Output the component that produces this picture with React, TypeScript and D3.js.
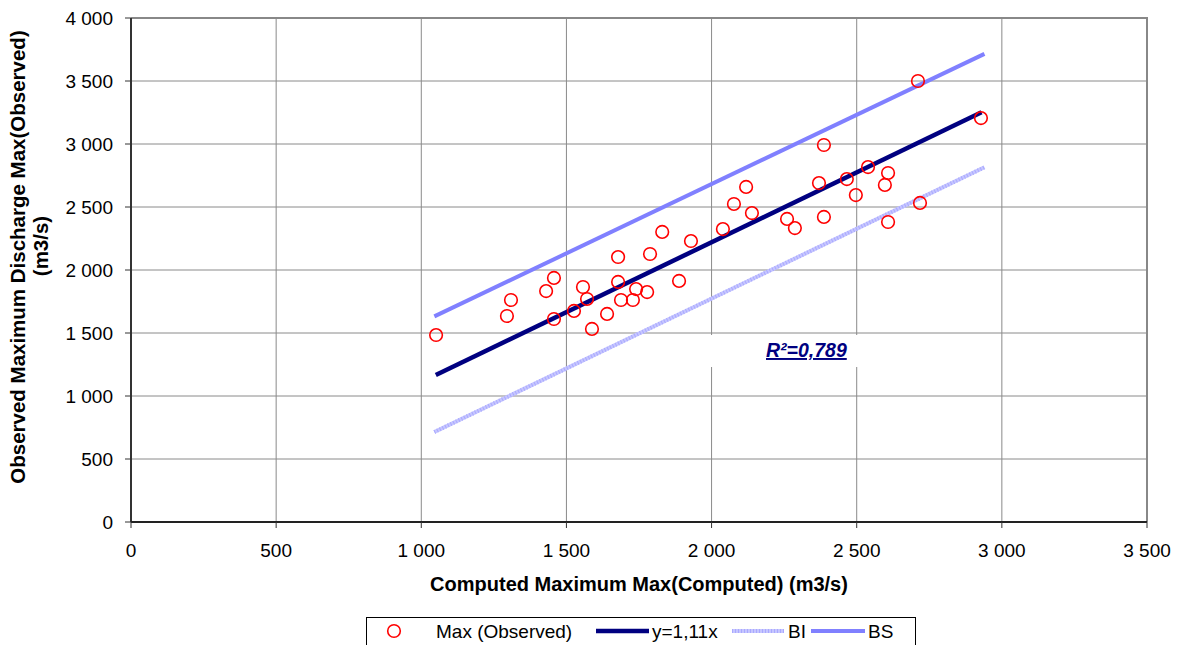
import React from 'react';
import * as d3 from 'd3';

// observed vs computed maximum discharge (m3/s)
const computedMax = [
  1051, 1295, 1309, 1430, 1457, 1457, 1526, 1557, 1571, 1588,
  1640, 1678, 1678, 1688, 1729, 1740, 1778, 1788, 1830, 1888,
  1929, 2039, 2077, 2119, 2139, 2260, 2287, 2370, 2387, 2387,
  2466, 2497, 2539, 2597, 2608, 2608, 2711, 2718, 2928,
];
const observedMax = [
  1484, 1635, 1762, 1833, 1937, 1611, 1675, 1865, 1770, 1532,
  1651, 2103, 1905, 1762, 1762, 1849, 1825, 2127, 2302, 1913,
  2230, 2325, 2524, 2659, 2452, 2405, 2333, 2690, 2992, 2421,
  2722, 2595, 2817, 2675, 2770, 2381, 3500, 2532, 3206,
];

// fitted line and bands (end points)
const fitX = [1050, 2930];
const fitY = [1166, 3252];
const bandX = [1045, 2940];
const bsY = [1632, 3715];
const biY = [714, 2815];

const xTicks = [0, 500, 1000, 1500, 2000, 2500, 3000, 3500];
const yTicks = [0, 500, 1000, 1500, 2000, 2500, 3000, 3500, 4000];
const r2Label = 'R²=0,789';

const W = 1179;
const H = 645;
const FONT = '"Liberation Sans", Arial, sans-serif';
const fmt = (v: number) => (v >= 1000 ? d3.format(',')(v).replace(',', ' ') : String(v));

export default function App() {
  const x = d3.scaleLinear().domain([0, 3500]).range([131, 1147]);
  const y = d3.scaleLinear().domain([0, 4000]).range([522, 18]);
  const line = d3.line<[number, number]>().x(d => x(d[0])).y(d => y(d[1]));
  const fit = line(fitX.map((v, i) => [v, fitY[i]]))!;
  const bs = line(bandX.map((v, i) => [v, bsY[i]]))!;
  const bi = line(bandX.map((v, i) => [v, biY[i]]))!;

  return (
    <svg width={W} height={H} style={{ position: 'absolute', left: 0, top: 0, background: '#fff' }}
      fontFamily={FONT}>
      {/* grid */}
      {xTicks.slice(1, -1).map(t => (
        <line key={'gx' + t} x1={x(t)} x2={x(t)} y1={y(4000)} y2={y(0)} stroke="#8a8a8a" strokeWidth={1} />
      ))}
      {yTicks.slice(1, -1).map(t => (
        <line key={'gy' + t} x1={x(0)} x2={x(3500)} y1={y(t)} y2={y(t)} stroke="#8a8a8a" strokeWidth={1} />
      ))}
      {/* frame */}
      <line x1={x(0)} x2={x(3500) + 1} y1={y(4000)} y2={y(4000)} stroke="#888" strokeWidth={2} />
      <line x1={x(3500)} x2={x(3500)} y1={y(4000)} y2={y(0)} stroke="#888" strokeWidth={2} />
      <line x1={x(0)} x2={x(0)} y1={y(4000)} y2={y(0)} stroke="#333" strokeWidth={2} />
      <line x1={x(0)} x2={x(3500)} y1={y(0)} y2={y(0)} stroke="#222" strokeWidth={2} />
      {yTicks.map(t => (
        <g key={'ty' + t}>
          <line x1={x(0) - 6} x2={x(0)} y1={y(t)} y2={y(t)} stroke="#333" strokeWidth={1} />
          <text x={113} y={y(t) + 7} textAnchor="end" fontSize={19} fill="#000">{fmt(t)}</text>
        </g>
      ))}
      {xTicks.map(t => (
        <g key={'tx' + t}>
          <line x1={x(t)} x2={x(t)} y1={y(0)} y2={y(0) + 6} stroke="#333" strokeWidth={1} />
          <text x={x(t)} y={557} textAnchor="middle" fontSize={19} fill="#000">{fmt(t)}</text>
        </g>
      ))}

      {/* R² label box */}
      <rect x={705} y={335} width={160} height={32} fill="#fff" />
      <text x={766} y={357} fontSize={19.5} fontWeight="bold" fontStyle="italic" fill="#000080"
        textDecoration="underline">{r2Label}</text>

      {/* series */}
      <path d={bi} fill="none" stroke="#c6c6ff" strokeWidth={4} />
      <path d={bi} fill="none" stroke="#a9a9ff" strokeWidth={4} strokeDasharray="1 2" />
      <path d={bs} fill="none" stroke="#8080ff" strokeWidth={4} />
      <path d={fit} fill="none" stroke="#000080" strokeWidth={4.5} />
      {computedMax.map((v, i) => (
        <circle key={'p' + i} cx={x(v)} cy={y(observedMax[i])} r={6.3} fill="none" stroke="#ff0000" strokeWidth={1.6} />
      ))}

      {/* axis titles */}
      <text x={639} y={591} textAnchor="middle" fontSize={20} fontWeight="bold">
        Computed Maximum Max(Computed) (m3/s)
      </text>
      <text transform="translate(25,257) rotate(-90)" textAnchor="middle" fontSize={20.5} fontWeight="bold">
        Observed Maximum Discharge Max(Observed)
      </text>
      <text transform="translate(48,246) rotate(-90)" textAnchor="middle" fontSize={20.5} fontWeight="bold">
        (m3/s)
      </text>

      {/* legend */}
      <rect x={366.5} y={617.5} width={549} height={30} fill="#fff" stroke="#000" strokeWidth={1} />
      <circle cx={394} cy={631} r={6.3} fill="none" stroke="#ff0000" strokeWidth={1.6} />
      <text x={436} y={638} fontSize={19}>Max (Observed)</text>
      <line x1={596} x2={649} y1={631} y2={631} stroke="#000080" strokeWidth={4.5} />
      <text x={652} y={638} fontSize={19}>y=1,11x</text>
      <line x1={732} x2={784} y1={631} y2={631} stroke="#c6c6ff" strokeWidth={4} />
      <line x1={732} x2={784} y1={631} y2={631} stroke="#a9a9ff" strokeWidth={4} strokeDasharray="1 2" />
      <text x={788} y={638} fontSize={19}>BI</text>
      <line x1={811} x2={865} y1={631} y2={631} stroke="#8080ff" strokeWidth={4} />
      <text x={868} y={638} fontSize={19}>BS</text>
    </svg>
  );
}
